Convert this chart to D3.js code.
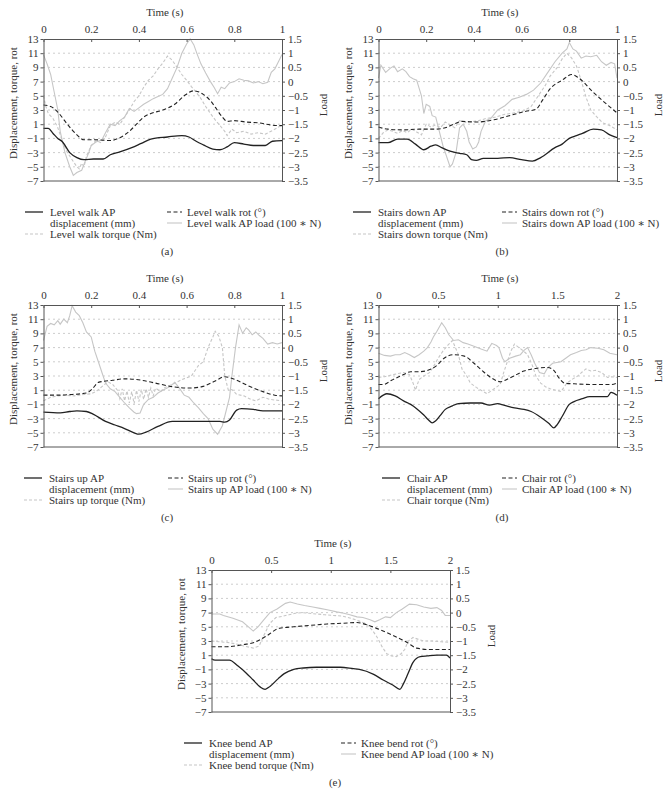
<!DOCTYPE html>
<html>
<head>
<meta charset="utf-8">
<script src="https://cdn.jsdelivr.net/npm/d3@7"></script>
<style>
body { margin: 0; background: #fff; }
svg text { font-family: "Liberation Serif", "DejaVu Serif", serif; font-size: 11px; fill: #333; }
</style>
</head>
<body>
<div id="vis"></div>
<script>
// values: [time (s), value]
// displacement / rot / torque on the left axis, AP load on the right "Load" axis
const walkDisp = [[0,0.4],[0.02,0.4],[0.04,-0.3],[0.06,-1],[0.08,-1.5],[0.11,-3],[0.14,-3.7],[0.17,-4],[0.21,-3.9],[0.25,-3.9],[0.28,-3.3],[0.32,-2.9],[0.37,-2.3],[0.41,-1.7],[0.45,-1.1],[0.52,-0.8],[0.58,-0.6],[0.61,-0.8],[0.64,-1.4],[0.67,-1.9],[0.71,-2.5],[0.74,-2.6],[0.77,-2.2],[0.8,-1.6],[0.84,-1.8],[0.88,-2],[0.93,-2],[0.96,-1.4],[1,-1.3]];
const walkRot = [[0,3.7],[0.03,3.5],[0.06,2.7],[0.1,1],[0.14,-0.5],[0.17,-1.2],[0.22,-1.2],[0.28,-1.3],[0.32,-0.9],[0.36,0],[0.39,1],[0.42,2],[0.45,2.5],[0.5,3],[0.55,3.8],[0.59,5],[0.63,5.7],[0.67,5.2],[0.7,4.3],[0.72,3.4],[0.75,2],[0.77,1.4],[0.8,1.5],[0.85,1.3],[0.9,1.2],[0.95,0.9],[1,0.8]];
const walkTorque = [[0,5],[0.01,3.5],[0.02,2.5],[0.04,1.8],[0.06,0.5],[0.08,-1.5],[0.1,-3],[0.12,-4],[0.14,-5],[0.15,-5.3],[0.16,-4.5],[0.17,-5],[0.18,-3.5],[0.2,-2],[0.22,-1.3],[0.24,-1.6],[0.26,-0.8],[0.28,0.8],[0.3,1.3],[0.32,1],[0.34,2],[0.36,3],[0.38,4.2],[0.4,5],[0.42,6.2],[0.44,7.2],[0.46,7.8],[0.48,8.8],[0.5,9.6],[0.52,10.6],[0.54,10],[0.56,9],[0.58,8],[0.6,7.2],[0.62,6.3],[0.64,5.5],[0.66,4.6],[0.68,3.5],[0.7,2.5],[0.72,1.6],[0.74,0.8],[0.76,0],[0.77,-0.6],[0.79,0.3],[0.81,-0.2],[0.84,0],[0.87,-0.4],[0.9,-0.2],[0.93,-0.4],[0.96,0.1],[1,0.9]];
const walkLoad = [[0,0.95],[0.015,0.625],[0.03,0.25],[0.045,-0.375],[0.06,-1],[0.07,-1.75],[0.09,-2.5],[0.11,-3],[0.125,-3.3],[0.14,-3.2],[0.16,-3.125],[0.175,-2.8],[0.19,-2.5],[0.2,-2.25],[0.22,-2.125],[0.245,-2.05],[0.26,-1.8],[0.28,-1.5],[0.3,-1.55],[0.32,-1.375],[0.34,-1.25],[0.36,-0.95],[0.38,-1.05],[0.4,-0.925],[0.42,-0.8],[0.44,-0.7],[0.46,-0.6],[0.48,-0.525],[0.5,-0.45],[0.52,-0.25],[0.54,0.125],[0.56,0.5],[0.58,1],[0.6,1.325],[0.615,1.5],[0.63,1.3],[0.645,0.95],[0.66,0.625],[0.68,0.3],[0.7,0],[0.715,-0.2],[0.73,-0.425],[0.745,-0.2],[0.76,-0.25],[0.78,-0.05],[0.8,0],[0.82,0.1],[0.84,0.05],[0.86,0.025],[0.88,-0.05],[0.9,0],[0.92,-0.075],[0.94,-0.025],[0.955,0.325],[0.97,0.45],[0.985,0.7],[1,0.95]];

const downDisp = [[0,-1.6],[0.04,-1.6],[0.08,-1.1],[0.12,-1.1],[0.155,-1.8],[0.19,-2.6],[0.22,-2.1],[0.24,-1.9],[0.265,-2.3],[0.3,-2.8],[0.34,-3.1],[0.37,-3.3],[0.39,-4],[0.41,-4.1],[0.44,-3.8],[0.5,-3.8],[0.55,-3.7],[0.6,-4],[0.645,-4.2],[0.68,-3.7],[0.74,-2.3],[0.77,-1.8],[0.8,-1],[0.83,-0.6],[0.855,-0.3],[0.9,0.3],[0.935,0.2],[0.97,-0.5],[1,-0.9]];
const downRot = [[0,0.6],[0.04,0.3],[0.1,0.2],[0.17,0.3],[0.24,0.3],[0.28,0.5],[0.315,1],[0.35,1.4],[0.41,1.3],[0.48,1.6],[0.56,2.3],[0.615,2.8],[0.66,3.1],[0.69,4.5],[0.72,6],[0.77,7.2],[0.81,8],[0.84,7.5],[0.9,5.5],[0.94,4.3],[1,2.6]];
const downTorque = [[0,-1],[0.02,-0.2],[0.04,0.2],[0.06,0],[0.08,-0.3],[0.1,0.1],[0.12,-0.2],[0.14,0.3],[0.16,-0.1],[0.18,-0.5],[0.2,1],[0.22,0.6],[0.24,0.9],[0.26,0.5],[0.28,1.3],[0.3,0.9],[0.32,0.5],[0.34,1.5],[0.37,1.2],[0.4,1.4],[0.42,1.5],[0.45,1.8],[0.49,2],[0.53,2.4],[0.57,2.6],[0.61,2.9],[0.64,3.5],[0.67,5],[0.7,6.5],[0.72,7.8],[0.75,9],[0.77,10.2],[0.79,11],[0.81,10.3],[0.83,9.2],[0.84,8.2],[0.86,6],[0.87,4.8],[0.89,3],[0.91,2.2],[0.94,1.2],[0.97,0.8],[1,0.2]];
const downLoad = [[0,0.125],[0.01,0.575],[0.03,0.325],[0.05,0.475],[0.065,0.55],[0.08,0.35],[0.1,0.45],[0.115,0.35],[0.13,0.175],[0.145,0.1],[0.16,0.05],[0.18,-0.5],[0.19,-1.125],[0.2,-0.8],[0.215,-0.875],[0.225,-1.2],[0.24,-1.25],[0.255,-1.75],[0.27,-2.25],[0.285,-2.625],[0.3,-3],[0.31,-2.9],[0.325,-2.5],[0.34,-1.625],[0.355,-1.5],[0.37,-1.75],[0.38,-2.125],[0.395,-2.375],[0.41,-2.3],[0.42,-2.125],[0.43,-1.75],[0.45,-1.375],[0.47,-1.3],[0.5,-1],[0.53,-0.85],[0.56,-0.625],[0.59,-0.55],[0.62,-0.45],[0.65,-0.3],[0.68,-0.05],[0.71,0.325],[0.74,0.7],[0.77,1],[0.79,1.15],[0.8,1.375],[0.815,1.15],[0.83,1.075],[0.85,0.825],[0.87,0.9],[0.89,0.875],[0.915,0.925],[0.935,0.7],[0.955,0.575],[0.975,0.675],[0.99,0.625],[1,0.125]];

const upDisp = [[0,-2.1],[0.07,-2.2],[0.11,-2],[0.14,-1.9],[0.18,-2],[0.21,-2.4],[0.26,-3.4],[0.3,-3.9],[0.34,-4.4],[0.38,-5],[0.4,-5.2],[0.43,-4.9],[0.48,-4.1],[0.54,-3.4],[0.65,-3.4],[0.74,-3.4],[0.76,-3.5],[0.78,-3.2],[0.81,-1.8],[0.83,-1.6],[0.88,-1.7],[0.92,-1.9],[1,-1.9]];
const upRot = [[0,0.3],[0.06,0.3],[0.12,0.4],[0.18,0.6],[0.205,1.2],[0.23,2.1],[0.29,2.4],[0.34,2.6],[0.39,2.5],[0.47,2],[0.54,1.5],[0.61,1.3],[0.665,1.5],[0.72,2.3],[0.76,2.9],[0.81,2.4],[0.86,1.6],[0.92,0.8],[0.97,0.3],[1,0.2]];
const upTorque = [[0,-0.5],[0.03,0],[0.06,0.2],[0.09,0.3],[0.13,0.2],[0.17,0.4],[0.2,0.5],[0.22,0.8],[0.245,1.5],[0.27,2.2],[0.29,1.8],[0.31,1],[0.32,-0.2],[0.33,1.2],[0.34,-0.5],[0.35,0.9],[0.36,-0.8],[0.37,0.8],[0.38,-0.9],[0.39,1],[0.4,-0.6],[0.41,1.1],[0.42,-0.3],[0.43,1.2],[0.44,0],[0.45,1.3],[0.46,0.2],[0.47,1.3],[0.49,0.8],[0.51,1.4],[0.54,1.8],[0.58,2.5],[0.62,3],[0.65,4.5],[0.67,5],[0.69,7],[0.71,8.5],[0.72,9.3],[0.735,8.6],[0.75,7],[0.76,3],[0.775,1],[0.79,1.1],[0.81,0.4],[0.84,0.2],[0.87,-0.3],[0.89,-0.5],[0.92,0],[0.95,-0.3],[1,-0.5]];
const upLoad = [[0,0.25],[0.015,0.75],[0.03,0.85],[0.045,0.8],[0.06,0.95],[0.07,0.825],[0.085,1],[0.1,0.875],[0.11,1.125],[0.12,1.475],[0.135,1.25],[0.15,1.125],[0.165,0.875],[0.18,0.55],[0.2,0.375],[0.215,-0.125],[0.23,-0.5],[0.245,-0.875],[0.26,-1.25],[0.28,-1.45],[0.3,-1.55],[0.32,-1.75],[0.34,-1.95],[0.36,-2.125],[0.38,-2.275],[0.39,-2.325],[0.405,-2.3],[0.42,-2],[0.44,-1.825],[0.46,-1.75],[0.48,-1.6],[0.5,-1.5],[0.53,-1.375],[0.55,-1.225],[0.565,-1.375],[0.59,-1.675],[0.61,-1.75],[0.63,-1.95],[0.65,-2.125],[0.67,-2.325],[0.69,-2.5],[0.71,-2.875],[0.73,-3.05],[0.75,-2.75],[0.765,-2.25],[0.78,-1.75],[0.79,-1],[0.805,0],[0.82,0.8],[0.835,0.5],[0.85,0.7],[0.86,0.625],[0.875,0.45],[0.89,0.55],[0.905,0.425],[0.92,0.325],[0.94,0.125],[0.96,0.175],[0.98,0.125],[1,0.175]];

const chairDisp = [[0,-0.2],[0.04,0.3],[0.07,0.5],[0.14,0.2],[0.21,-0.5],[0.27,-1],[0.32,-1.6],[0.38,-2.5],[0.42,-3.2],[0.45,-3.6],[0.48,-3.3],[0.52,-2.5],[0.56,-1.7],[0.62,-1.2],[0.67,-0.9],[0.77,-0.8],[0.86,-0.8],[0.93,-1.1],[1,-0.9],[1.05,-1.1],[1.14,-1.5],[1.22,-1.7],[1.28,-2],[1.36,-2.8],[1.43,-3.7],[1.47,-4.3],[1.5,-3.8],[1.54,-2.7],[1.6,-1],[1.64,-0.6],[1.71,-0.2],[1.77,0.1],[1.92,0.1],[1.95,0.7],[2,0.3]];
const chairRot = [[0,1.8],[0.04,1.8],[0.11,2.4],[0.21,3.2],[0.27,3.6],[0.34,3.6],[0.43,3.9],[0.49,4.5],[0.55,5.5],[0.63,6],[0.72,5.8],[0.8,4.8],[0.88,3.6],[0.97,2.5],[1.02,2.2],[1.11,2.8],[1.22,3.7],[1.33,4.1],[1.42,4.2],[1.47,3.8],[1.51,2.8],[1.56,2],[1.64,1.9],[1.81,1.8],[1.95,1.8],[2,2]];
const chairTorque = [[0,2.8],[0.05,2.9],[0.1,3.1],[0.15,3.3],[0.21,3.5],[0.26,3.2],[0.29,2],[0.31,1],[0.34,2.5],[0.38,3],[0.43,3.5],[0.47,4.6],[0.5,5.5],[0.54,6.5],[0.58,7.3],[0.62,8],[0.65,6.8],[0.67,6],[0.7,4],[0.74,3],[0.77,2],[0.82,1.4],[0.86,1],[0.91,0.5],[0.97,1.2],[1.02,1.8],[1.05,3.5],[1.08,5],[1.11,6.5],[1.14,7.5],[1.17,7.1],[1.21,6.6],[1.25,6],[1.29,4.5],[1.32,3],[1.36,2],[1.4,1.5],[1.44,1.2],[1.49,1],[1.53,0.8],[1.58,2],[1.63,2.6],[1.67,3],[1.71,3.6],[1.74,4],[1.78,3.7],[1.82,3.8],[1.87,3.5],[1.92,2.8],[1.96,2.9],[2,2.8]];
const chairLoad = [[0,-0.2],[0.05,-0.275],[0.1,-0.3],[0.14,-0.25],[0.18,-0.25],[0.22,-0.175],[0.26,-0.25],[0.3,-0.35],[0.34,-0.25],[0.38,-0.125],[0.41,0],[0.44,0.2],[0.46,0.375],[0.49,0.575],[0.53,0.875],[0.56,0.7],[0.59,0.45],[0.63,0.25],[0.67,0.275],[0.71,0.175],[0.75,0.125],[0.8,0.05],[0.86,-0.05],[0.91,-0.125],[0.95,0.15],[0.99,0.075],[1.01,0],[1.04,-0.375],[1.06,-0.5],[1.1,-0.375],[1.15,-0.3],[1.19,-0.25],[1.22,-0.1],[1.25,0],[1.28,-0.25],[1.31,-0.55],[1.35,-0.875],[1.39,-0.925],[1.42,-0.7],[1.46,-0.55],[1.53,-0.5],[1.57,-0.375],[1.61,-0.25],[1.66,-0.175],[1.7,-0.1],[1.74,-0.075],[1.78,0],[1.84,-0.025],[1.89,-0.075],[1.94,-0.2],[2,-0.25]];

const kneeDisp = [[0,0.5],[0.03,0.3],[0.15,0.3],[0.22,-0.5],[0.29,-1.5],[0.35,-2.5],[0.41,-3.5],[0.45,-3.8],[0.49,-3.4],[0.56,-2.3],[0.61,-1.6],[0.69,-1],[0.77,-0.8],[0.88,-0.7],[1.08,-0.7],[1.19,-0.9],[1.24,-1],[1.36,-1.7],[1.44,-2.5],[1.52,-3.2],[1.58,-3.8],[1.61,-3],[1.65,-1.5],[1.69,0],[1.75,0.8],[1.81,0.9],[1.89,1],[1.97,1],[2,0.6]];
const kneeRot = [[0,2.2],[0.13,2.2],[0.27,2.5],[0.36,2.8],[0.46,3.7],[0.57,4.8],[0.69,5],[0.83,5.2],[0.97,5.4],[1.1,5.5],[1.22,5.6],[1.3,5.3],[1.41,4.6],[1.52,3.8],[1.64,2.8],[1.72,2],[1.83,1.8],[2,1.8]];
const kneeTorque = [[0,3],[0.06,2.9],[0.13,2.8],[0.2,2.6],[0.27,2.3],[0.35,2],[0.4,2.3],[0.43,3.5],[0.46,4.5],[0.49,5.5],[0.54,6.3],[0.6,6.5],[0.65,6.7],[0.7,6.9],[0.76,7],[0.82,6.9],[0.88,6.8],[0.95,6.7],[1.02,6.6],[1.1,6.5],[1.17,6.2],[1.24,5.8],[1.3,5.4],[1.35,4.5],[1.39,3.5],[1.43,2.2],[1.47,1.2],[1.51,0.9],[1.55,0.8],[1.59,1.2],[1.62,1.8],[1.65,3],[1.69,3.5],[1.74,3.2],[1.78,3],[1.85,3],[1.92,2.9],[2,2.8]];
const kneeLoad = [[0,-0.05],[0.07,-0.05],[0.1,-0.1],[0.18,-0.2],[0.26,-0.325],[0.31,-0.5],[0.35,-0.65],[0.39,-0.5],[0.44,-0.25],[0.49,0],[0.55,0.125],[0.62,0.325],[0.66,0.375],[0.72,0.3],[0.78,0.25],[0.85,0.2],[0.91,0.15],[0.97,0.1],[1.05,0.025],[1.11,-0.025],[1.16,-0.075],[1.22,-0.15],[1.27,-0.175],[1.33,-0.25],[1.37,-0.325],[1.41,-0.25],[1.46,-0.15],[1.5,-0.175],[1.55,0],[1.6,0.125],[1.66,0.3],[1.72,0.275],[1.78,0.2],[1.84,0.15],[1.89,0.175],[1.93,0.075],[1.96,-0.1],[2,-0.1]];

const shortTicks = [0, 0.2, 0.4, 0.6, 0.8, 1];
const longTicks = [0, 0.5, 1, 1.5, 2];
const leftTicks = d3.range(-7, 14, 2);
const rightTicks = d3.range(-3.5, 1.6, 0.5);
const gridValues = d3.range(-5, 12, 2);

const panels = [
    { tag: "(a)", name: "Level walk", tMax: 1, ticks: shortTicks, disp: walkDisp, rot: walkRot, torque: walkTorque, load: walkLoad, x: 0, y: 0, legL: 50, legR: 187 },
    { tag: "(b)", name: "Stairs down", tMax: 1, ticks: shortTicks, disp: downDisp, rot: downRot, torque: downTorque, load: downLoad, x: 335, y: 0, legL: 43, legR: 187 },
    { tag: "(c)", name: "Stairs up", tMax: 1, ticks: shortTicks, disp: upDisp, rot: upRot, torque: upTorque, load: upLoad, x: 0, y: 266, legL: 49, legR: 188 },
    { tag: "(d)", name: "Chair", tMax: 2, ticks: longTicks, disp: chairDisp, rot: chairRot, torque: chairTorque, load: chairLoad, x: 335, y: 266, legL: 72, legR: 187 },
    { tag: "(e)", name: "Knee bend", tMax: 2, ticks: longTicks, disp: kneeDisp, rot: kneeRot, torque: kneeTorque, load: kneeLoad, x: 168, y: 531, legL: 41, legR: 193 }
];

const plot = { left: 43.5, right: 282, top: 39, bottom: 181 };
const dark = "#222", light = "#c6c6c6", axisColor = "#555";

const styles = {
    disp: { stroke: dark, width: 1.3, dash: null },
    rot: { stroke: dark, width: 1.1, dash: "4,2.5" },
    torque: { stroke: light, width: 1.1, dash: "3,2" },
    load: { stroke: light, width: 1.1, dash: null }
};

const svg = d3.select("#vis")
    .append("svg")
    .attr("width", 671)
    .attr("height", 802);

function drawPanel(p) {
    const g = svg.append("g").attr("transform", `translate(${p.x},${p.y})`);

    const xScale = d3.scaleLinear().domain([0, p.tMax]).range([plot.left, plot.right]);
    const yLeft = d3.scaleLinear().domain([-7, 13]).range([plot.bottom, plot.top]);
    const yRight = d3.scaleLinear().domain([-3.5, 1.5]).range([plot.bottom, plot.top]);

    // dotted grid
    g.selectAll(".grid")
        .data(gridValues)
        .enter()
        .append("line")
        .attr("x1", plot.left)
        .attr("x2", plot.right)
        .attr("y1", d => yLeft(d))
        .attr("y2", d => yLeft(d))
        .attr("stroke", "#9a9a9a")
        .attr("stroke-width", 1)
        .attr("stroke-dasharray", "1,4");

    const lineLeft = d3.line().x(d => xScale(d[0])).y(d => yLeft(d[1]));
    const lineRight = d3.line().x(d => xScale(d[0])).y(d => yRight(d[1]));
    const smoothLeft = d3.line().x(d => xScale(d[0])).y(d => yLeft(d[1])).curve(d3.curveMonotoneX);

    const series = [
        { key: "load", data: p.load, gen: lineRight },
        { key: "torque", data: p.torque, gen: lineLeft },
        { key: "rot", data: p.rot, gen: smoothLeft },
        { key: "disp", data: p.disp, gen: smoothLeft }
    ];

    series.forEach(s => {
        const st = styles[s.key];
        g.append("path")
            .datum(s.data)
            .attr("d", s.gen)
            .attr("fill", "none")
            .attr("stroke", st.stroke)
            .attr("stroke-width", st.width)
            .attr("stroke-dasharray", st.dash);
    });

    // axes
    const top = g.append("g")
        .attr("transform", `translate(0,${plot.top})`)
        .call(d3.axisTop(xScale).tickValues(p.ticks).tickSizeInner(-3).tickSizeOuter(0).tickPadding(6).tickFormat(d3.format("~g")));
    const left = g.append("g")
        .attr("transform", `translate(${plot.left},0)`)
        .call(d3.axisLeft(yLeft).tickValues(leftTicks).tickSizeInner(3).tickSizeOuter(0).tickPadding(2).tickFormat(d3.format("~g")));
    const right = g.append("g")
        .attr("transform", `translate(${plot.right},0)`)
        .call(d3.axisRight(yRight).tickValues(rightTicks).tickSizeInner(3).tickSizeOuter(0).tickPadding(3).tickFormat(d3.format("~g")));

    [top, left, right].forEach(a => {
        a.select(".domain").attr("stroke", axisColor);
        a.selectAll(".tick line").attr("stroke", axisColor);
    });

    g.append("line")
        .attr("x1", plot.left)
        .attr("x2", plot.right)
        .attr("y1", plot.bottom)
        .attr("y2", plot.bottom)
        .attr("stroke", axisColor);

    g.append("text")
        .attr("x", (plot.left + plot.right) / 2 + 2)
        .attr("y", 16)
        .attr("text-anchor", "middle")
        .text("Time (s)");

    g.append("text")
        .attr("transform", `translate(16.5,103) rotate(-90)`)
        .attr("text-anchor", "middle")
        .text("Displacement, torque, rot");

    g.append("text")
        .attr("transform", `translate(327,105) rotate(-90)`)
        .attr("text-anchor", "middle")
        .text("Load");

    // legend
    const rows = [212, 223, 234];
    const legendItems = [
        { key: "disp", x: p.legL, row: 0, label: `${p.name} AP`, sample: true },
        { key: "disp", x: p.legL, row: 1, label: "displacement (mm)", sample: false },
        { key: "torque", x: p.legL, row: 2, label: `${p.name} torque (Nm)`, sample: true },
        { key: "rot", x: p.legR, row: 0, label: `${p.name} rot (°)`, sample: true },
        { key: "load", x: p.legR, row: 1, label: `${p.name} AP load (100 ∗ N)`, sample: true }
    ];

    legendItems.forEach(item => {
        const st = styles[item.key];
        const y = rows[item.row];
        if (item.sample) {
            const len = item.x === p.legL ? 18 : 15;
            const gap = item.x === p.legL ? 7 : 5;
            g.append("line")
                .attr("x1", item.x - gap - len)
                .attr("x2", item.x - gap)
                .attr("y1", y)
                .attr("y2", y)
                .attr("stroke", st.stroke)
                .attr("stroke-width", st.width)
                .attr("stroke-dasharray", st.dash);
        }
        g.append("text")
            .attr("x", item.x)
            .attr("y", y + 3.6)
            .text(item.label);
    });

    g.append("text")
        .attr("x", 167)
        .attr("y", 254.5)
        .attr("text-anchor", "middle")
        .text(p.tag);
}

panels.forEach(drawPanel);
</script>
</body>
</html>
